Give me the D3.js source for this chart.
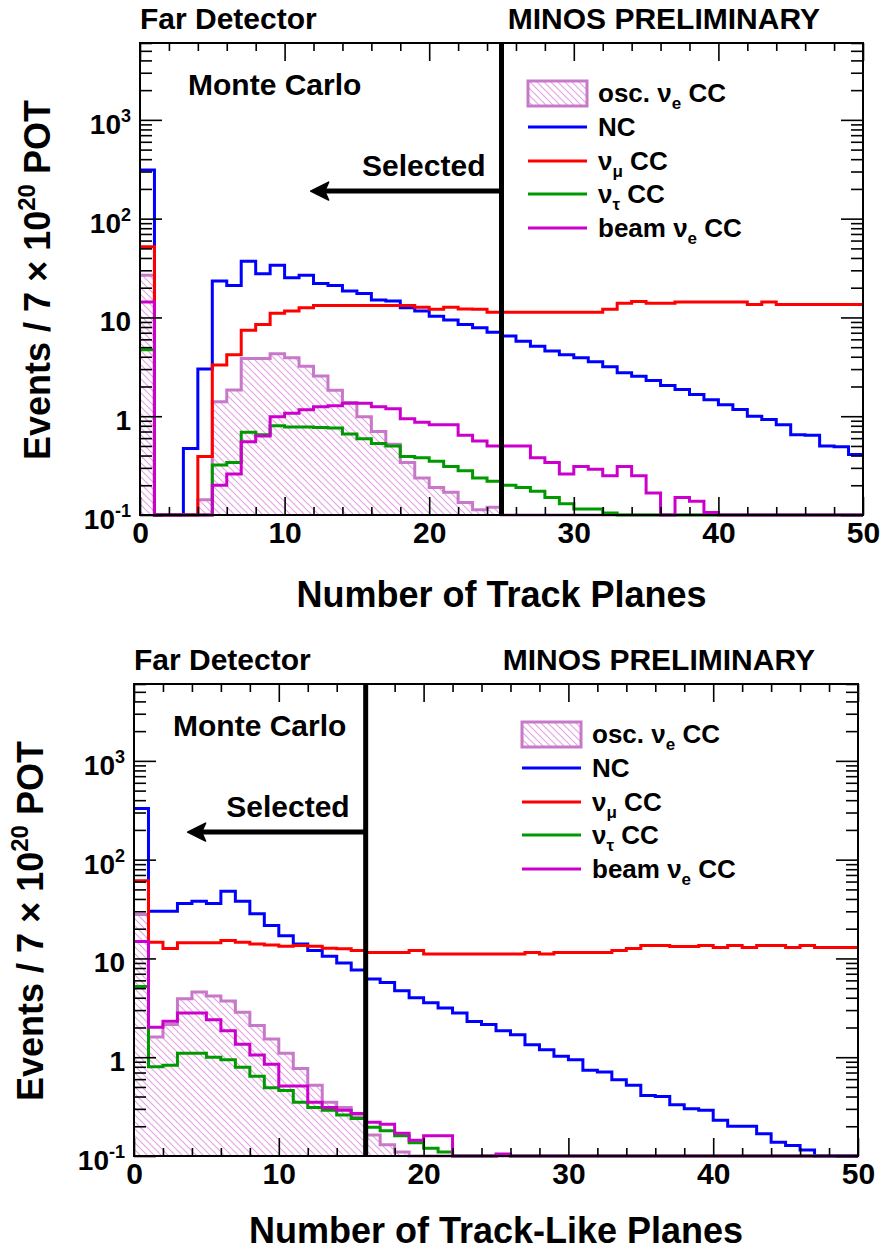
<!DOCTYPE html>
<html>
<head>
<meta charset="utf-8">
<script src="https://d3js.org/d3.v7.min.js"></script>
<style>
  body { margin: 0; background: #fff; }
  text { font-family: "Liberation Sans", Arial, Helvetica, sans-serif; font-weight: bold; }
</style>
</head>
<body>
<div id="chart"></div>
<script>
var W = 884, H = 1255;

// ---- data: events per 1-plane bin, 0..50 ----
// top panel: number of track planes
var oscTrack   = [26.7, 0, 0, 0, 0.143, 1.4, 1.84, 3.84, 3.84, 4.28, 3.9, 3.2, 2.55, 1.83, 1.38, 0.99, 0.7, 0.52, 0.34, 0.237,
                  0.19, 0.17, 0.134, 0.113, 0.12, 0.1, 0, 0, 0, 0, 0, 0, 0, 0, 0, 0, 0, 0, 0, 0,
                  0, 0, 0, 0, 0, 0, 0, 0, 0, 0];
var ncTrack    = [310, 0, 0, 0.47, 3.0, 23.4, 21, 37, 27.7, 33.7, 25.2, 26.7, 22, 21, 18.5, 17.5, 15, 14.7, 12.5, 11.6,
                  10.3, 9.4, 8.5, 7.85, 7.1, 6.5, 5.75, 5.1, 4.56, 4.2, 3.9, 3.55, 3.16, 2.75, 2.54, 2.3, 2.05, 1.86, 1.66, 1.47,
                  1.31, 1.17, 1.0, 0.925, 0.82, 0.65, 0.64, 0.5, 0.49, 0.41];
var numuTrack  = [52, 0, 0, 0, 0.39, 3.3, 4.2, 7.4, 8.5, 11, 11.6, 12.5, 13.2, 13.2, 13.2, 13.2, 13.2, 13.2, 13.2, 12.7,
                  12.1, 12.7, 12.2, 12.1, 11.3, 11.3, 11.3, 11.3, 11.3, 11.3, 11.3, 11.3, 12.1, 13.9, 14.5, 13.9, 13.9, 14.3, 14.3, 14.3,
                  14.3, 14.3, 13.5, 14.3, 13.5, 13.5, 13.5, 13.5, 13.5, 13.5];
var nutauTrack = [4.7, 0, 0, 0, 0, 0.32, 0.34, 0.69, 0.65, 0.8, 0.78, 0.78, 0.77, 0.76, 0.66, 0.59, 0.53, 0.5, 0.39, 0.38,
                  0.35, 0.31, 0.28, 0.237, 0.22, 0.2, 0.19, 0.174, 0.15, 0.13, 0.115, 0.115, 0.105, 0, 0, 0, 0, 0, 0, 0,
                  0, 0, 0, 0, 0, 0, 0, 0, 0, 0];
var beamTrack  = [14.3, 0, 0, 0, 0, 0.2, 0.26, 0.55, 0.63, 0.99, 1.07, 1.16, 1.25, 1.28, 1.35, 1.35, 1.25, 1.19, 0.94, 0.87,
                  0.82, 0.82, 0.64, 0.56, 0.5, 0.5, 0.5, 0.38, 0.34, 0.26, 0.31, 0.29, 0.25, 0.31, 0.25, 0.167, 0, 0.15, 0.138, 0.106,
                  0, 0, 0, 0, 0, 0, 0, 0, 0, 0];

// bottom panel: number of track-like planes
var oscLike    = [27.8, 1.6, 2.14, 3.91, 4.57, 4.16, 3.7, 2.86, 2.09, 1.53, 1.1, 0.77, 0.52, 0.35, 0.31, 0.25, 0.163, 0.13, 0.11, 0,
                  0, 0, 0, 0, 0, 0, 0, 0, 0, 0, 0, 0, 0, 0, 0, 0, 0, 0, 0, 0,
                  0, 0, 0, 0, 0, 0, 0, 0, 0, 0];
var ncLike     = [330, 30, 30, 36, 38, 36, 48, 38, 28.4, 21.6, 17, 14, 12, 10.5, 9, 7.65, 6.2, 5.7, 4.7, 4.0,
                  3.55, 3.15, 2.8, 2.3, 2.15, 1.85, 1.69, 1.34, 1.19, 1.02, 0.94, 0.74, 0.71, 0.59, 0.52, 0.41, 0.4, 0.33, 0.3, 0.29,
                  0.23, 0.2, 0.2, 0.168, 0.138, 0.128, 0.115, 0, 0, 0];
var numuLike   = [61, 14.6, 12.6, 14.4, 14.4, 14.4, 15.2, 14.6, 14, 13.7, 13.3, 13.5, 13.3, 12.7, 12.5, 12.0, 11.5, 11.5, 11.5, 12.0,
                  11.1, 11.1, 11.1, 11.1, 11.1, 11.1, 11.1, 11.5, 11.1, 11.5, 11.5, 11.5, 11.5, 12.0, 12.6, 13.5, 13.5, 13.2, 13.2, 13.5,
                  12.9, 13.5, 12.9, 13.5, 13.5, 12.9, 13.5, 12.9, 12.9, 12.9];
var nutauLike  = [5.2, 0.8, 0.83, 1.1, 1.1, 1.0, 0.94, 0.79, 0.64, 0.49, 0.46, 0.35, 0.31, 0.29, 0.26, 0.24, 0.196, 0.18, 0.16, 0.136,
                  0.12, 0.11, 0.1, 0, 0, 0.101, 0, 0, 0, 0, 0, 0, 0, 0, 0, 0, 0, 0, 0, 0,
                  0, 0, 0, 0, 0, 0, 0, 0, 0, 0];
var beamLike   = [14.8, 2.01, 2.31, 2.81, 2.81, 2.4, 1.85, 1.35, 1.05, 0.85, 0.51, 0.51, 0.35, 0.31, 0.29, 0.27, 0.22, 0.21, 0.17, 0.144,
                  0.16, 0.16, 0, 0, 0, 0.105, 0, 0, 0, 0, 0, 0, 0, 0, 0, 0, 0, 0, 0, 0,
                  0, 0, 0, 0, 0, 0, 0, 0, 0, 0];

var xMajor = [0, 10, 20, 30, 40, 50];
var yMajor = [0.1, 1, 10, 100, 1000];
var yTickBase = ["10", "1", "10", "10", "10"];
var yTickExp  = ["-1", "", "", "2", "3"];

var legendMain = ["osc. \u03bd", "NC", "\u03bd", "\u03bd", "beam \u03bd"];
var legendSub  = ["e", "", "\u03bc", "\u03c4", "e"];
var legendTail = [" CC", "", " CC", " CC", " CC"];

var cutTrack = 25, arrowTrack = 11.8;
var cutLike = 16, arrowLike = 3.7;
var arrowLevel = 190;

var colors = { osc: "#c878c8", hatch: "#e4a4e4", nc: "#0000ff", numu: "#ff0000", nutau: "#009a00", beam: "#cc00cc" };

var panels = [
  { left: 140, top: 43, right: 863, bottom: 515,
    osc: oscTrack, nc: ncTrack, numu: numuTrack, nutau: nutauTrack, beam: beamTrack,
    cut: cutTrack, arrowTo: arrowTrack, xTitle: "Number of Track Planes",
    xTitleY: 607, yTitleX: 50, mcX: 188 },
  { left: 134, top: 684, right: 858, bottom: 1156,
    osc: oscLike, nc: ncLike, numu: numuLike, nutau: nutauLike, beam: beamLike,
    cut: cutLike, arrowTo: arrowLike, xTitle: "Number of Track-Like Planes",
    xTitleY: 1243, yTitleX: 43, mcX: 173 }
];

var svg = d3.select("#chart").append("svg")
    .attr("width", W).attr("height", H)
    .attr("xmlns", "http://www.w3.org/2000/svg");

var defs = svg.append("defs");
var pat = defs.append("pattern")
    .attr("id", "hatch").attr("patternUnits", "userSpaceOnUse")
    .attr("width", 7).attr("height", 7);
pat.append("path")
    .attr("d", "M0,0 L7,7 M-2,5 L2,9 M5,-2 L9,2")
    .attr("stroke", colors.hatch).attr("stroke-width", 1.2);

var yMin = 0.1, yMax = 6000;

// outline of a 1-wide-bin histogram, empty bins sit on the floor
function stepPoints(vals, closed) {
  var pts = closed ? [[0, yMin]] : [];
  vals.forEach(function(v, i) {
    var vv = Math.max(v, yMin);
    pts.push([i, vv], [i + 1, vv]);
  });
  if (closed) pts.push([vals.length, yMin]);
  return pts;
}

function minorLog() {
  var out = [];
  for (var e = -1; e <= 3; e++) {
    for (var k = 1; k <= 9; k++) {
      var v = k * Math.pow(10, e);
      if (v <= yMax && yMajor.indexOf(v) < 0) out.push(v);
    }
  }
  return out;
}

panels.forEach(function(p, pi) {
  var x = d3.scaleLinear().domain([0, 50]).range([p.left, p.right]);
  var y = d3.scaleLog().domain([yMin, yMax]).range([p.bottom, p.top]);
  var g = svg.append("g");

  var clipId = "clip" + pi;
  defs.append("clipPath").attr("id", clipId).append("rect")
      .attr("x", p.left).attr("y", p.top)
      .attr("width", p.right - p.left).attr("height", p.bottom - p.top + 3);

  var plot = g.append("g").attr("clip-path", "url(#" + clipId + ")");
  var line = d3.line().x(function(d) { return x(d[0]); }).y(function(d) { return y(d[1]); });
  var area = d3.area().x(function(d) { return x(d[0]); })
      .y0(y(yMin)).y1(function(d) { return y(d[1]); });

  plot.append("path").attr("d", area(stepPoints(p.osc, true)))
      .attr("fill", "url(#hatch)");
  [["osc", p.osc], ["nc", p.nc], ["numu", p.numu], ["nutau", p.nutau], ["beam", p.beam]].forEach(function(s) {
    plot.append("path").attr("d", line(stepPoints(s[1], false)))
        .attr("fill", "none").attr("stroke", colors[s[0]])
        .attr("stroke-width", 3).attr("stroke-linejoin", "miter");
  });

  // ticks
  var xMinor = d3.range(0, 51, 2).filter(function(v) { return v % 10 !== 0; });
  function tickStyle(sel) {
    sel.select(".domain").remove();
    sel.selectAll(".tick line").attr("stroke", "#000").attr("stroke-width", 1.6);
  }
  g.append("g").attr("transform", "translate(0," + p.bottom + ")")
      .call(d3.axisBottom(x).tickValues(xMinor).tickSize(-8).tickFormat("")).call(tickStyle);
  g.append("g").attr("transform", "translate(0," + p.top + ")")
      .call(d3.axisTop(x).tickValues(xMinor).tickSize(-8).tickFormat("")).call(tickStyle);
  g.append("g").attr("transform", "translate(0," + p.top + ")")
      .call(d3.axisTop(x).tickValues(xMajor).tickSize(-18).tickFormat("")).call(tickStyle);
  var xa = g.append("g").attr("transform", "translate(0," + p.bottom + ")")
      .call(d3.axisBottom(x).tickValues(xMajor).tickSize(-18).tickPadding(7).tickFormat(d3.format("d")))
      .call(tickStyle);
  xa.attr("font-family", null).attr("font-size", null);
  xa.selectAll(".tick text").attr("fill", "#000").style("font-size", "30px");

  var ym = minorLog();
  g.append("g").attr("transform", "translate(" + p.left + ",0)")
      .call(d3.axisLeft(y).tickValues(ym).tickSize(-12).tickFormat("")).call(tickStyle);
  g.append("g").attr("transform", "translate(" + p.right + ",0)")
      .call(d3.axisRight(y).tickValues(ym).tickSize(-12).tickFormat("")).call(tickStyle);
  g.append("g").attr("transform", "translate(" + p.left + ",0)")
      .call(d3.axisLeft(y).tickValues(yMajor).tickSize(-22).tickFormat("")).call(tickStyle);
  g.append("g").attr("transform", "translate(" + p.right + ",0)")
      .call(d3.axisRight(y).tickValues(yMajor).tickSize(-22).tickFormat("")).call(tickStyle);

  yMajor.forEach(function(v, i) {
    var t = g.append("text").attr("x", p.left - 9).attr("y", y(v) + 14)
        .attr("text-anchor", "end").style("font-size", "28px");
    t.append("tspan").text(yTickBase[i]);
    if (yTickExp[i]) {
      t.append("tspan").attr("dy", -12).style("font-size", "18px").text(yTickExp[i]);
    }
  });

  // frame
  g.append("rect").attr("x", p.left).attr("y", p.top)
      .attr("width", p.right - p.left).attr("height", p.bottom - p.top)
      .attr("fill", "none").attr("stroke", "#000").attr("stroke-width", 2);

  // cut line and arrow
  var cx = x(p.cut), ay = y(arrowLevel), ax = x(p.arrowTo);
  g.append("line").attr("x1", cx).attr("x2", cx).attr("y1", p.top).attr("y2", p.bottom)
      .attr("stroke", "#000").attr("stroke-width", 5);
  g.append("line").attr("x1", cx).attr("x2", ax + 12).attr("y1", ay).attr("y2", ay)
      .attr("stroke", "#000").attr("stroke-width", 5);
  g.append("path")
      .attr("d", "M" + ax + "," + ay + " L" + (ax + 18) + "," + (ay - 9) + " L" + (ax + 14) + "," + ay +
                 " L" + (ax + 18) + "," + (ay + 9) + " Z")
      .attr("fill", "#000").attr("stroke", "#000").attr("stroke-width", 1.5).attr("stroke-linejoin", "round");
  g.append("text").attr("x", cx - 16).attr("y", ay - 15).attr("text-anchor", "end")
      .style("font-size", "30px").text("Selected");

  g.append("text").attr("x", p.mcX).attr("y", p.top + 52)
      .style("font-size", "30px").text("Monte Carlo");

  // titles
  g.append("text").attr("x", p.left).attr("y", p.top - 14)
      .style("font-size", "30px").text("Far Detector");
  g.append("text").attr("x", p.right - 43).attr("y", p.top - 14).attr("text-anchor", "end")
      .style("font-size", "30px").text("MINOS PRELIMINARY");

  g.append("text").attr("x", (p.left + p.right) / 2 + 0).attr("y", p.xTitleY)
      .attr("text-anchor", "middle").style("font-size", "36px").text(p.xTitle);

  var yt = g.append("text")
      .attr("transform", "translate(" + p.yTitleX + "," + ((p.top + p.bottom) / 2 + 1) + ") rotate(-90)")
      .attr("text-anchor", "middle").style("font-size", "36px");
  yt.append("tspan").text("Events / 7 \u00d7 10");
  yt.append("tspan").attr("dy", -15).style("font-size", "24px").text("20");
  yt.append("tspan").attr("dy", 15).text(" POT");

  // legend
  var lx = p.left + 388, lw = 59, tx = p.left + 458;
  var rowY = [p.top + 50, p.top + 84, p.top + 118, p.top + 151, p.top + 185];
  var keys = ["osc", "nc", "numu", "nutau", "beam"];
  keys.forEach(function(k, i) {
    if (i === 0) {
      g.append("rect").attr("x", lx).attr("y", rowY[i] - 12).attr("width", lw).attr("height", 25)
          .attr("fill", "url(#hatch)").attr("stroke", colors.osc).attr("stroke-width", 3);
    } else {
      g.append("line").attr("x1", lx).attr("x2", lx + lw).attr("y1", rowY[i]).attr("y2", rowY[i])
          .attr("stroke", colors[k]).attr("stroke-width", 3);
    }
    var t = g.append("text").attr("x", tx).attr("y", rowY[i] + 9).style("font-size", "26px");
    t.append("tspan").text(legendMain[i]);
    if (legendSub[i]) {
      t.append("tspan").attr("dy", 7).style("font-size", "17px").text(legendSub[i]);
      t.append("tspan").attr("dy", -7).text(legendTail[i]);
    }
  });
});
</script>
</body>
</html>
